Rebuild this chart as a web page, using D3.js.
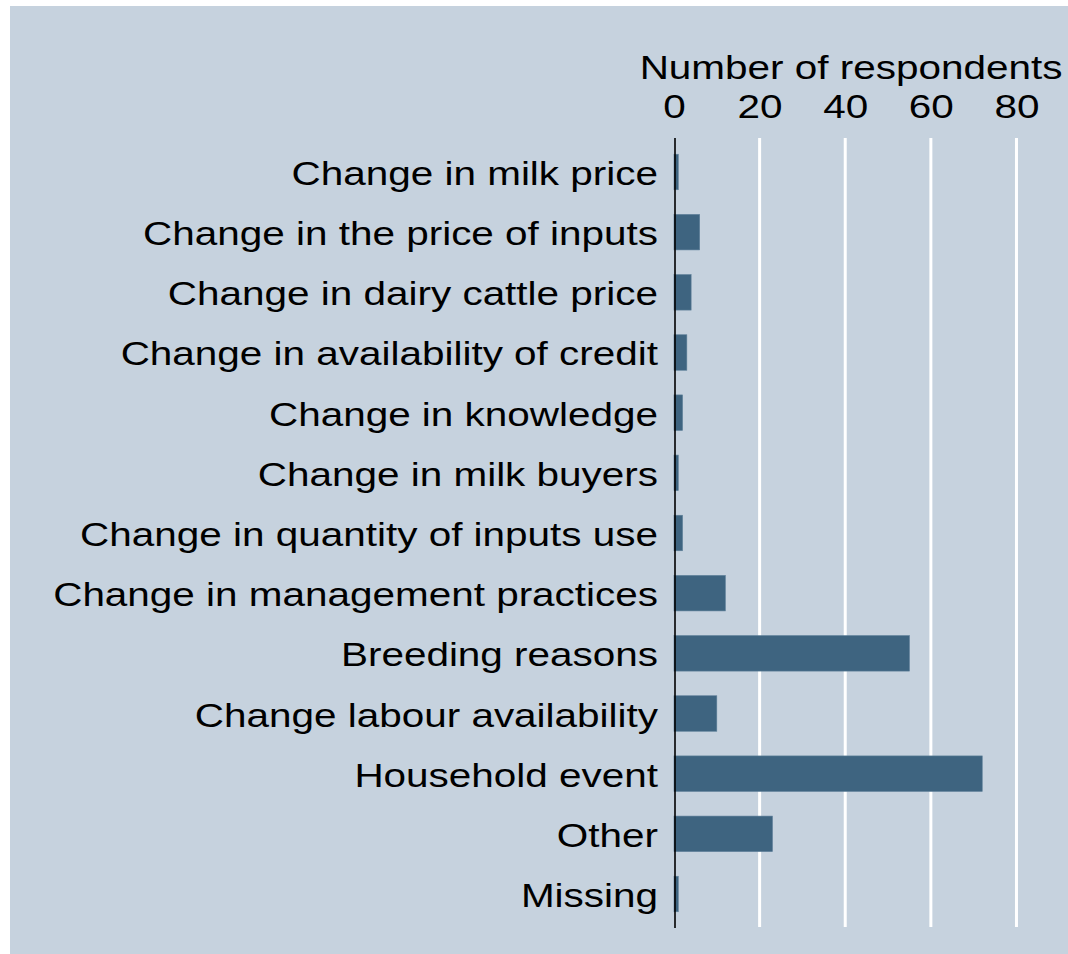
<!DOCTYPE html>
<html>
<head>
<meta charset="utf-8">
<script src="https://cdn.jsdelivr.net/npm/d3@7"></script>
<style>
  body { margin: 0; background: #fff; }
  text { font-family: "Liberation Sans", Arial, sans-serif; fill: #000; }
</style>
</head>
<body>
<script>
var categories = [
	'Change in milk price',
	'Change in the price of inputs',
	'Change in dairy cattle price',
	'Change in availability of credit',
	'Change in knowledge',
	'Change in milk buyers',
	'Change in quantity of inputs use',
	'Change in management practices',
	'Breeding reasons',
	'Change labour availability',
	'Household event',
	'Other',
	'Missing'
];
var respondents = [1, 6, 4, 3, 2, 1, 2, 12, 55, 10, 72, 23, 1];
var tickValues = [0, 20, 40, 60, 80];
var axisTitle = 'Number of respondents';

var width = 1068, height = 954;
var fontSize = 34, stretch = 1.19;

var svg = d3.select('body')
	.append('svg')
	.attr('width', width)
	.attr('height', height);

svg.append('rect')
	.attr('x', 10)
	.attr('y', 6)
	.attr('width', width - 10)
	.attr('height', height - 6)
	.attr('fill', '#c6d2de');

var x = d3.scaleLinear()
	.domain([0, 90])
	.range([674, 674 + 90 * 4.281]);

var y = d3.scaleBand()
	.domain(categories)
	.range([138, 928])
	.paddingInner(0.41)
	.paddingOuter(0.27);

// white grid lines
svg.append('g')
	.selectAll('line')
	.data(tickValues.filter(function(d){return d > 0}))
	.enter()
	.append('line')
	.attr('x1', function(d){return x(d)})
	.attr('x2', function(d){return x(d)})
	.attr('y1', 138)
	.attr('y2', 927)
	.attr('stroke', '#fff')
	.attr('stroke-width', 3);

// bars
svg.append('g')
	.selectAll('rect')
	.data(respondents)
	.enter()
	.append('rect')
	.attr('x', x(0))
	.attr('y', function(d, i){return y(categories[i])})
	.attr('width', function(d){return x(d) - x(0)})
	.attr('height', y.bandwidth())
	.attr('fill', '#3e6480')
	.attr('stroke', '#5d7f98')
	.attr('stroke-width', 0.6);

// zero line
svg.append('line')
	.attr('x1', x(0) + 1)
	.attr('x2', x(0) + 1)
	.attr('y1', 138)
	.attr('y2', 928)
	.attr('stroke', '#000')
	.attr('stroke-width', 1.6);

// category labels
svg.append('g')
	.selectAll('text')
	.data(categories)
	.enter()
	.append('text')
	.attr('transform', function(d){
		return 'translate(658,' + (y(d) + y.bandwidth() / 2 + 13) + ') scale(' + stretch + ',1)';
	})
	.attr('text-anchor', 'end')
	.style('font-size', fontSize + 'px')
	.text(function(d){return d});

// top axis labels
var axis = d3.axisTop(x)
	.tickValues(tickValues)
	.tickSize(0)
	.tickPadding(0);

var axisG = svg.append('g')
	.attr('transform', 'translate(0,118)')
	.call(axis);
axisG.select('.domain').remove();
axisG.selectAll('text')
	.attr('y', 0)
	.attr('dy', 0)
	.attr('transform', 'scale(' + stretch + ',1)')
	.style('font-size', fontSize + 'px')
	.style('font-family', '"Liberation Sans", Arial, sans-serif')
	.attr('fill', '#000');

svg.append('text')
	.attr('transform', 'translate(851,79) scale(' + stretch + ',1)')
	.attr('text-anchor', 'middle')
	.style('font-size', fontSize + 'px')
	.text(axisTitle);
</script>
</body>
</html>
